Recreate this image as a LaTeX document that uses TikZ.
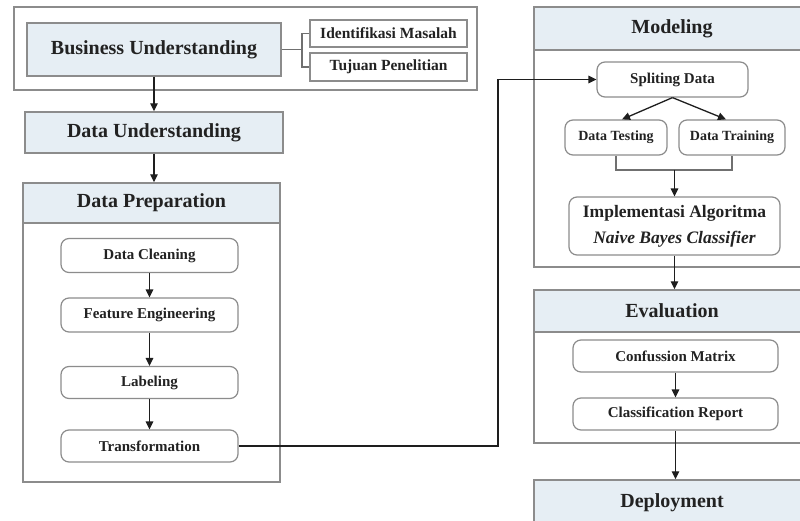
\documentclass[tikz,border=0pt]{standalone}
\usepackage{fontspec}
\setmainfont{Liberation Serif}
\usetikzlibrary{arrows.meta}
\definecolor{hdr}{HTML}{E6EEF4}
\definecolor{frm}{HTML}{8C8C8C}
\definecolor{txt}{HTML}{222222}
\definecolor{lnc}{HTML}{1E1E1E}
\tikzset{
  frame/.style={draw=frm, line width=1.4pt, fill=white, inner sep=0pt},
  hdrbox/.style={draw=frm, line width=1.4pt, fill=hdr, inner sep=0pt, text=txt,
    font=\fontsize{20}{22}\selectfont\bfseries},
  stepbox/.style={draw=frm, line width=1.2pt, rounded corners=8pt, fill=white, inner sep=0pt,
    text=txt, font=\fontsize{15}{17}\selectfont\bfseries},
  subbox/.style={draw=frm, line width=1.1pt, fill=white, inner sep=0pt, text=txt,
    font=\fontsize{15.5}{17}\selectfont\bfseries},
  arr/.style={draw=lnc, line width=1.3pt, -{Triangle[length=8pt,width=7.5pt]}},
  ln/.style={draw=lnc, line width=1.2pt},
  bln/.style={draw=frm!80!black, line width=1.1pt}
}
\begin{document}
\begin{tikzpicture}[x=1pt,y=-1pt]
\useasboundingbox (0,0) rectangle (800,521);
\fill[white] (0,0) rectangle (800,521);

% Business understanding group
\node[frame, minimum width=463pt, minimum height=83pt] (BUout) at (245.5,48.5) {};
\node[hdrbox, minimum width=254pt, minimum height=53pt] (BU) at (154,49.5) {Business Understanding};
\node[subbox, minimum width=157pt, minimum height=27pt] (IM) at (388.5,33.5) {Identifikasi Masalah};
\node[subbox, minimum width=157pt, minimum height=28pt] (TP) at (388.5,67) {Tujuan Penelitian};
\coordinate (br) at (302,49.5);
\draw[bln] (BU.east) -- (br);
\draw[bln] (IM.west) -| (br) |- (TP.west);

% Data understanding
\node[hdrbox, minimum width=258pt, minimum height=41pt] (DU) at (154,132.5) {Data Understanding};

% Data preparation
\node[frame, minimum width=257pt, minimum height=299pt] (DPbox) at (151.5,332.5) {};
\node[hdrbox, minimum width=257pt, minimum height=40pt] (DPhdr) at (151.5,203) {Data Preparation};
\node[stepbox, minimum width=177pt, minimum height=34pt] (DC) at (149.5,255.5) {Data Cleaning};
\node[stepbox, minimum width=177pt, minimum height=34pt] (FE) at (149.5,315) {Feature Engineering};
\node[stepbox, minimum width=177pt, minimum height=32pt] (LB) at (149.5,382.5) {Labeling};
\node[stepbox, minimum width=177pt, minimum height=32pt] (TR) at (149.5,446) {Transformation};

\draw[arr] (BU.south) -- (DU.north);
\draw[arr] (DU.south) -- (DU.south |- DPhdr.north);
\draw[arr] (DC) -- (FE);
\draw[arr] (FE) -- (LB);
\draw[arr] (LB) -- (TR);

% Modeling
\node[frame, minimum width=276pt, minimum height=260pt] (MObox) at (672,137) {};
\node[hdrbox, minimum width=276pt, minimum height=43pt] (MOhdr) at (672,28.5) {Modeling};
\node[stepbox, minimum width=151pt, minimum height=35pt] (SD) at (672.5,79.5) {Spliting Data};
\node[stepbox, minimum width=102pt, minimum height=35pt, font=\fontsize{14}{15}\selectfont\bfseries] (DTe) at (616,137.5) {Data Testing};
\node[stepbox, minimum width=106pt, minimum height=35pt, font=\fontsize{14}{15}\selectfont\bfseries] (DTr) at (732,137.5) {Data Training};
\node[stepbox, minimum width=211pt, minimum height=58pt, align=center, font=\fontsize{17.5}{26}\selectfont\bfseries] (IA) at (674.5,226) {Implementasi Algoritma\\\textit{Naive Bayes Classifier}};

\coordinate (jx) at (498,446);
\draw[arr] (TR.east) -- (jx) |- (SD.west);
\draw[arr] (SD.south) -- ([xshift=6pt]DTe.north);
\draw[arr] (SD.south) -- ([xshift=-6pt]DTr.north);
\coordinate (bm) at (674.5,170);
\draw[bln] (DTe.south) |- (bm) -| (DTr.south);
\draw[arr] (bm) -- (IA.north);

% Evaluation
\node[frame, minimum width=276pt, minimum height=153pt] (EVbox) at (672,366.5) {};
\node[hdrbox, minimum width=276pt, minimum height=42pt] (EVhdr) at (672,311) {Evaluation};
\node[stepbox, minimum width=205pt, minimum height=32pt] (CM) at (675.5,356) {Confussion Matrix};
\node[stepbox, minimum width=205pt, minimum height=32pt] (CR) at (675.5,414) {Classification Report};
\draw[arr] (IA.south) -- (IA.south |- EVhdr.north);
\draw[arr] (CM) -- (CR);

% Deployment
\node[hdrbox, minimum width=276pt, minimum height=46pt] (DEP) at (672,503) {Deployment};
\draw[arr] (CR.south) -- (CR.south |- DEP.north);
\end{tikzpicture}
\end{document}
